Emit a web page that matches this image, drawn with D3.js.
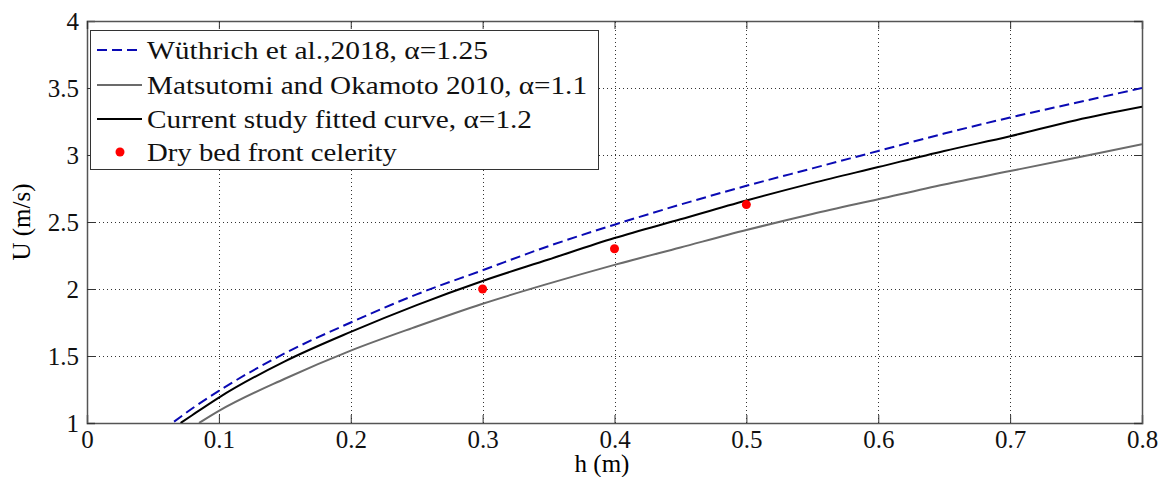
<!DOCTYPE html>
<html>
<head>
<meta charset="utf-8">
<script src="https://cdn.jsdelivr.net/npm/d3@7"></script>
<style>
  body { margin: 0; background: #fff; }
  svg text { font-family: "Liberation Serif", "DejaVu Serif", serif !important; }
</style>
</head>
<body>
<script>
// values
const hWuthrich = [0.066, 0.08, 0.1, 0.15, 0.2, 0.25, 0.3, 0.35, 0.4, 0.45, 0.5, 0.55, 0.6, 0.65, 0.7, 0.75, 0.8];
const uWuthrich = [1.01, 1.11, 1.24, 1.52, 1.75, 1.96, 2.14, 2.32, 2.48, 2.63, 2.77, 2.90, 3.03, 3.16, 3.28, 3.39, 3.50];

const hMatsutomi = [0.085, 0.1, 0.15, 0.2, 0.25, 0.3, 0.35, 0.4, 0.45, 0.5, 0.55, 0.6, 0.65, 0.7, 0.75, 0.8];
const uMatsutomi = [1.00, 1.09, 1.33, 1.54, 1.72, 1.89, 2.04, 2.18, 2.31, 2.44, 2.56, 2.67, 2.78, 2.88, 2.98, 3.08];

const hCurrent = [0.071, 0.08, 0.1, 0.15, 0.2, 0.25, 0.3, 0.35, 0.4, 0.45, 0.5, 0.55, 0.6, 0.65, 0.7, 0.75, 0.8];
const uCurrent = [1.00, 1.06, 1.19, 1.46, 1.68, 1.88, 2.06, 2.22, 2.38, 2.52, 2.66, 2.79, 2.91, 3.03, 3.14, 3.26, 3.36];

const hDryBed = [0.3, 0.4, 0.5];
const uDryBed = [2.0, 2.3, 2.63];

const xTicks = [0, 0.1, 0.2, 0.3, 0.4, 0.5, 0.6, 0.7, 0.8];
const yTicks = [1, 1.5, 2, 2.5, 3, 3.5, 4];

const legendLabels = [
  "Wüthrich et al.,2018, \u03b1=1.25",
  "Matsutomi and Okamoto 2010, \u03b1=1.1",
  "Current study fitted curve, \u03b1=1.2",
  "Dry bed front celerity"
];

const width = 1168;
const height = 477;
const margin = { top: 21, right: 26, bottom: 54, left: 87 };

const svg = d3.select("body").append("svg")
  .attr("width", width)
  .attr("height", height);

const x = d3.scaleLinear()
  .domain([0, 0.8])
  .range([margin.left, width - margin.right]);

const y = d3.scaleLinear()
  .domain([1, 4])
  .range([height - margin.bottom, margin.top]);

svg.append("defs").append("clipPath").attr("id", "plot")
  .append("rect")
  .attr("x", margin.left).attr("y", margin.top)
  .attr("width", x(0.8) - x(0)).attr("height", y(1) - y(4));

// grid
const grid = svg.append("g")
  .attr("stroke", "#333")
  .attr("stroke-width", 1)
  .attr("stroke-dasharray", "1,3");

grid.selectAll("line.gx")
  .data(xTicks.slice(1, -1))
  .join("line")
  .attr("x1", d => Math.round(x(d)) + 0.5).attr("x2", d => Math.round(x(d)) + 0.5)
  .attr("y1", y(1)).attr("y2", y(4));

grid.selectAll("line.gy")
  .data(yTicks.slice(1, -1))
  .join("line")
  .attr("class", "gy")
  .attr("y1", d => Math.round(y(d)) + 0.5).attr("y2", d => Math.round(y(d)) + 0.5)
  .attr("x1", x(0)).attr("x2", x(0.8));

// axes, ticks inward
const xAxis = d3.axisBottom(x).tickValues(xTicks).tickSize(-8).tickPadding(7)
  .tickFormat(d => d === 0 ? "0" : d3.format(".1f")(d));
const yAxis = d3.axisLeft(y).tickValues(yTicks).tickSize(-8).tickPadding(8)
  .tickFormat(d => d3.format("~g")(d));

const gx = svg.append("g")
  .attr("transform", `translate(0,${y(1)})`)
  .call(xAxis);
const gy = svg.append("g")
  .attr("transform", `translate(${x(0)},0)`)
  .call(yAxis);

svg.append("g")
  .attr("transform", `translate(0,${y(4)})`)
  .call(d3.axisTop(x).tickValues(xTicks).tickSize(-8).tickFormat(""));
svg.append("g")
  .attr("transform", `translate(${x(0.8)},0)`)
  .call(d3.axisRight(y).tickValues(yTicks).tickSize(-8).tickFormat(""));

svg.selectAll("g").attr("font-family", null);
svg.selectAll(".domain").attr("stroke", "#555").attr("stroke-width", 1.5);
svg.selectAll(".tick line").attr("stroke", "#333");
svg.selectAll(".tick text")
  .attr("font-size", 25)
  .attr("fill", "#111");

// curves
const line = d3.line()
  .x(d => x(d[0]))
  .y(d => y(d[1]))
  .curve(d3.curveMonotoneX);

const curves = svg.append("g").attr("clip-path", "url(#plot)").attr("fill", "none");

curves.append("path")
  .attr("d", line(d3.zip(hMatsutomi, uMatsutomi)))
  .attr("stroke", "#6b6b6b").attr("stroke-width", 2);

curves.append("path")
  .attr("d", line(d3.zip(hCurrent, uCurrent)))
  .attr("stroke", "#000").attr("stroke-width", 2);

curves.append("path")
  .attr("d", line(d3.zip(hWuthrich, uWuthrich)))
  .attr("stroke", "#0a0ab4").attr("stroke-width", 2)
  .attr("stroke-dasharray", "10,5");

svg.append("g")
  .attr("fill", "#f00")
  .selectAll("circle")
  .data(d3.zip(hDryBed, uDryBed))
  .join("circle")
  .attr("cx", d => x(d[0]))
  .attr("cy", d => y(d[1]))
  .attr("r", 4.5);

// labels
svg.append("text")
  .attr("x", 602).attr("y", 472)
  .attr("text-anchor", "middle")
  .attr("font-size", 25)
  .text("h (m)");

svg.append("text")
  .attr("transform", `translate(30,${(y(1) + y(4)) / 2}) rotate(-90)`)
  .attr("text-anchor", "middle")
  .attr("font-size", 25)
  .text("U (m/s)");

// legend
const legend = svg.append("g");
legend.append("rect")
  .attr("x", 90.5).attr("y", 30.5)
  .attr("width", 508).attr("height", 139)
  .attr("fill", "#fff").attr("stroke", "#333").attr("stroke-width", 1);

const rowY = [50, 85, 119, 152];
const textWidths = [341, 440, 385, 250];
const styles = [
  { stroke: "#0a0ab4", dash: "10,5" },
  { stroke: "#6b6b6b", dash: null },
  { stroke: "#000", dash: null },
  null
];

legendLabels.forEach((label, i) => {
  const yy = rowY[i];
  if (styles[i]) {
    legend.append("line")
      .attr("x1", 97).attr("x2", 142)
      .attr("y1", yy).attr("y2", yy)
      .attr("stroke", styles[i].stroke)
      .attr("stroke-width", 2)
      .attr("stroke-dasharray", styles[i].dash);
  } else {
    legend.append("circle")
      .attr("cx", 120).attr("cy", yy)
      .attr("r", 4.5).attr("fill", "#f00");
  }
  legend.append("text")
    .attr("x", 147).attr("y", yy + 9)
    .attr("font-size", 26)
    .attr("fill", "#111")
    .attr("textLength", textWidths[i])
    .attr("lengthAdjust", "spacingAndGlyphs")
    .text(label);
});
</script>
</body>
</html>
